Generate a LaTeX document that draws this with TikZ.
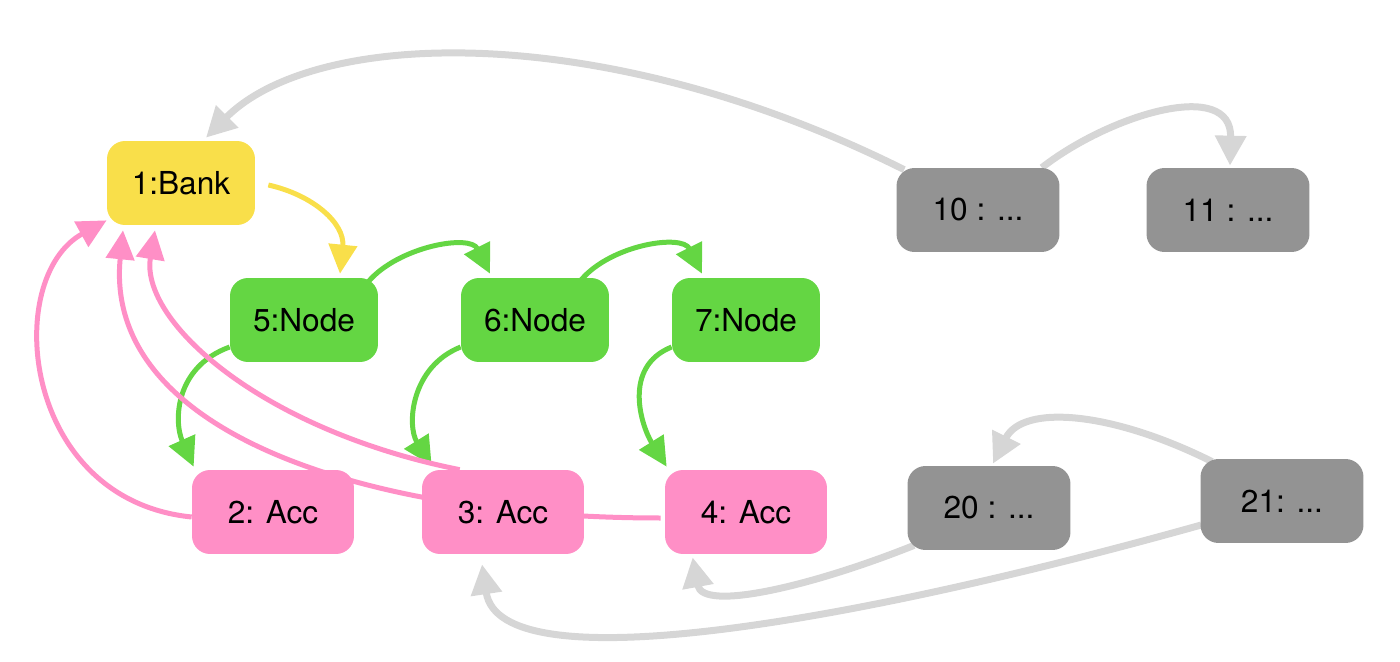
\documentclass[tikz,border=0pt]{standalone}
\usepackage{fontspec}
\setmainfont{TeX Gyre Heros}
\usetikzlibrary{arrows.meta,positioning}

\definecolor{bancoamarelo}{RGB}{249,223,74}
\definecolor{noverde}{RGB}{100,214,67}
\definecolor{contarosa}{RGB}{255,143,198}
\definecolor{caixacinza}{RGB}{147,147,147}
\definecolor{linhacinza}{RGB}{214,214,214}

\newcommand{\reticencias}{...}

\pgfdeclarelayer{fundo}
\pgfsetlayers{fundo,main}

\tikzset{
  caixa/.style={rounded corners=0.36cm, minimum height=1.68cm, inner sep=0pt,
    font=\fontsize{18}{21}\selectfont},
  bancobox/.style={caixa, fill=bancoamarelo, minimum width=2.96cm},
  nobox/.style={caixa, fill=noverde, minimum width=2.96cm},
  contabox/.style={caixa, fill=contarosa, minimum width=3.24cm},
  outrobox/.style={caixa, fill=caixacinza, minimum width=3.26cm},
  seta/.style={line width=0.1cm, -{Triangle[length=0.58cm,width=0.56cm]}},
  setacinza/.style={line width=0.14cm, color=linhacinza,
    -{Triangle[length=0.6cm,width=0.6cm]}}
}

\begin{document}
\begin{tikzpicture}[x=0.02cm, y=-0.02cm]

    \useasboundingbox (0,0) rectangle (1400,662);

    % Banco
    \node[bancobox] (bank) at (181,183) {1:Bank};

    % Nos da lista
    \foreach \nome/\x/\txt in {n5/304/5:Node, n6/535/6:Node, n7/746/7:Node} {
      \node[nobox] (\nome) at (\x,320) {\txt};
    }

    % Contas
    \foreach \nome/\x/\txt in {n2/273/2: Acc, n3/503/3: Acc, n4/746/4: Acc} {
      \node[contabox] (\nome) at (\x,512) {\txt};
    }

    % Outros objetos
    \foreach \nome/\x/\y/\txt in {n10/978/210/10 : \reticencias, n11/1228/210/11 : \reticencias,
                                  n20/989/508/20 : \reticencias, n21/1282/501/21: \reticencias} {
      \node[outrobox] (\nome) at (\x,\y) {\txt};
    }

    \begin{pgfonlayer}{fundo}
    % Banco -> primeiro no
    \draw[seta, color=bancoamarelo] ([shift={(13,2)}]bank.east)
      .. controls +(45,10) and +(5,-50) .. ([shift={(36,-4)}]n5.north);

    % Proximo no
    \draw[seta, color=noverde] ([shift={(-10,4)}]n5.north east)
      .. controls +(30,-35) and +(-20,-40) .. ([shift={(-45,-4)}]n6.north);
    \draw[seta, color=noverde] ([shift={(-28,2)}]n6.north east)
      .. controls +(30,-35) and +(-20,-40) .. ([shift={(-44,-4)}]n7.north);

    % No -> conta
    \draw[seta, color=noverde] ([shift={(0,27)}]n5.west)
      .. controls +(-55,20) and +(-20,-45) .. ([shift={(2,-3)}]n2.north west);
    \draw[seta, color=noverde] ([shift={(0,27)}]n6.west)
      .. controls +(-50,20) and +(-25,-40) .. ([shift={(10,-4)}]n3.north west);
    \draw[seta, color=noverde] ([shift={(0,27)}]n7.west)
      .. controls +(-50,20) and +(-25,-40) .. ([shift={(2,-3)}]n4.north west);

    % Conta -> banco
    \draw[seta, color=contarosa] ([shift={(0,5)}]n2.west)
      .. controls +(-170,-17) and +(-105,58) .. ([shift={(0,-5)}]bank.south west);
    \draw[seta, color=contarosa] ([shift={(-4,6)}]n4.west)
      .. controls +(-300,0) and +(-20,200) .. ([shift={(-58,5)}]bank.south);
    \draw[seta, color=contarosa] ([shift={(38,0)}]n3.north west)
      .. controls +(-200,-40) and +(-15,90) .. ([shift={(-26,5)}]bank.south);

    % Referencias cinzas
    \draw[setacinza] ([shift={(8,2)}]n10.north west)
      .. controls +(-300,-150) and +(110,-110) .. ([shift={(25,-3)}]bank.north);
    \draw[setacinza] ([shift={(-18,0)}]n10.north east)
      .. controls +(68,-53) and +(2,-88) .. ([shift={(2,-2)}]n11.north);
    \draw[setacinza] ([shift={(12,3)}]n21.north west)
      .. controls +(-100,-50) and +(30,-60) .. ([shift={(4,-2)}]n20.north);
    \draw[setacinza] ([shift={(7,-5)}]n20.south west)
      .. controls +(-100,40) and +(10,55) .. ([shift={(28,3)}]n4.south west);
    \draw[setacinza] ([shift={(1,24)}]n21.west)
      .. controls +(-350,98) and +(18,120) .. ([shift={(-21,10)}]n3.south);
    \end{pgfonlayer}

\end{tikzpicture}
\end{document}
